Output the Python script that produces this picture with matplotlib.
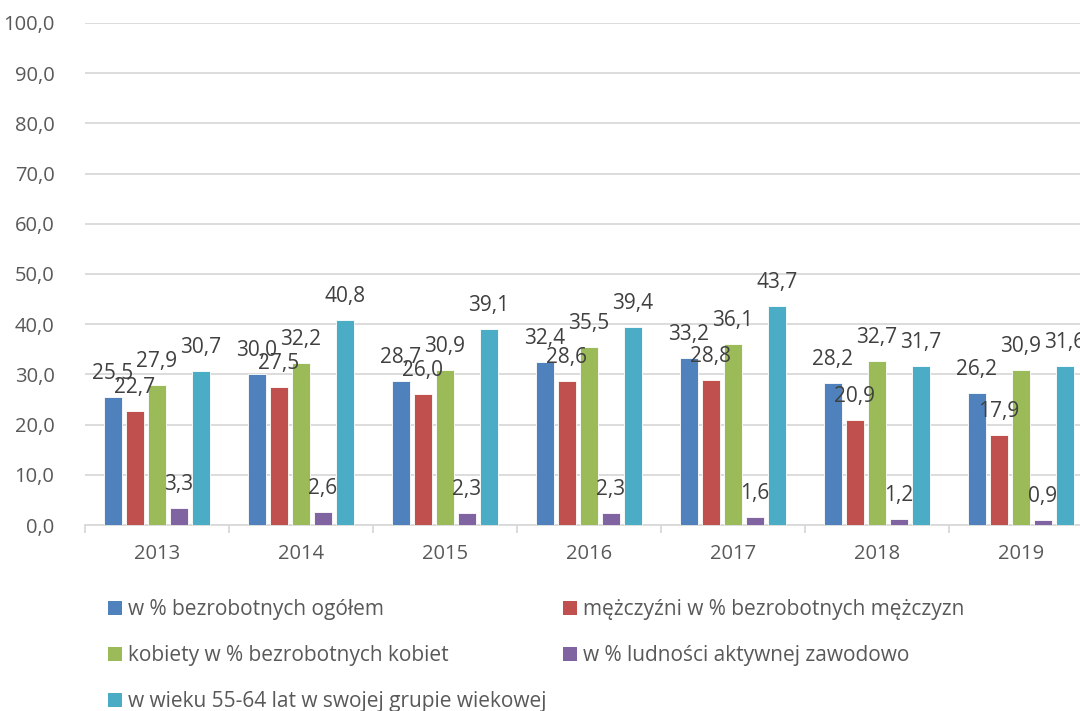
import matplotlib
matplotlib.use("Agg")
import matplotlib.pyplot as plt
import numpy as np
from matplotlib.patches import Patch

plt.rcParams['font.family'] = ['Open Sans', 'DejaVu Sans']

years = ['2013', '2014', '2015', '2016', '2017', '2018', '2019']
series_names = [
    'w % bezrobotnych ogółem',
    'mężczyźni w % bezrobotnych mężczyzn',
    'kobiety w % bezrobotnych kobiet',
    'w % ludności aktywnej zawodowo',
    'w wieku 55-64 lat w swojej grupie wiekowej',
]
ogolem = [25.5, 30.0, 28.7, 32.4, 33.2, 28.2, 26.2]
mezczyzni = [22.7, 27.5, 26.0, 28.6, 28.8, 20.9, 17.9]
kobiety = [27.9, 32.2, 30.9, 35.5, 36.1, 32.7, 30.9]
aktywni = [3.3, 2.6, 2.3, 2.3, 1.6, 1.2, 0.9]
wiek_55_64 = [30.7, 40.8, 39.1, 39.4, 43.7, 31.7, 31.6]
series = [ogolem, mezczyzni, kobiety, aktywni, wiek_55_64]
colors = ['#4f81bd', '#c0504d', '#9bbb59', '#8064a2', '#4bacc6']

txt = '#595959'
lab = '#404040'

fig = plt.figure(figsize=(10.8, 7.11), dpi=100)
ax = fig.add_axes([85/1080, 1-525/711, 1008/1080, (525-23)/711])

x = np.arange(len(years))
pitch = 0.153
width = 0.122
for i, (vals, c) in enumerate(zip(series, colors)):
    pos = x + (i - 2) * pitch
    ax.bar(pos, vals, width=width, color=c, edgecolor='white', linewidth=0.6, zorder=3)
    for px, v in zip(pos, vals):
        ax.annotate(f'{v:.1f}'.replace('.', ','), (px, v), xytext=(0, 17),
                    textcoords='offset points', ha='center', va='center',
                    fontsize=15, color=lab, zorder=4, annotation_clip=False)

ax.set_xlim(-0.5, len(years) - 0.5)
ax.set_ylim(0, 100)
ax.set_yticks(np.arange(0, 101, 10))
ax.set_yticklabels([f'{v:.1f}'.replace('.', ',') for v in np.arange(0, 101, 10)])
ax.grid(axis='y', color='#d9d9d9', linewidth=1.3, zorder=0)
ax.set_axisbelow(True)
for s in ['top', 'right', 'left']:
    ax.spines[s].set_visible(False)
ax.spines['bottom'].set_color('#d9d9d9')
ax.spines['bottom'].set_linewidth(1.3)
ax.set_xticks(x)
ax.set_xticklabels(years)
ax.set_xticks(np.arange(-0.5, len(years), 1), minor=True)
ax.tick_params(axis='x', which='major', length=0, pad=14, labelsize=14.5, labelcolor=txt)
ax.tick_params(axis='x', which='minor', length=6, width=1.3, color='#d9d9d9')
ax.tick_params(axis='y', length=0, pad=22, labelsize=14.5, labelcolor=txt)

handles = [Patch(facecolor=c) for c in colors]
leg_kw = dict(frameon=False, fontsize=15, handlelength=0.65, handleheight=0.65,
              handletextpad=0.3, labelspacing=1.2, labelcolor=txt, borderaxespad=0,
              borderpad=0)
leg1 = fig.legend([handles[0], handles[2], handles[4]],
                  [series_names[0], series_names[2], series_names[4]],
                  loc='upper left', bbox_to_anchor=(108/1080, 1-599/711), **leg_kw)
leg2 = fig.legend([handles[1], handles[3]],
                  [series_names[1], series_names[3]],
                  loc='upper left', bbox_to_anchor=(563/1080, 1-599/711), **leg_kw)

fig.savefig('out.png', dpi=100)
